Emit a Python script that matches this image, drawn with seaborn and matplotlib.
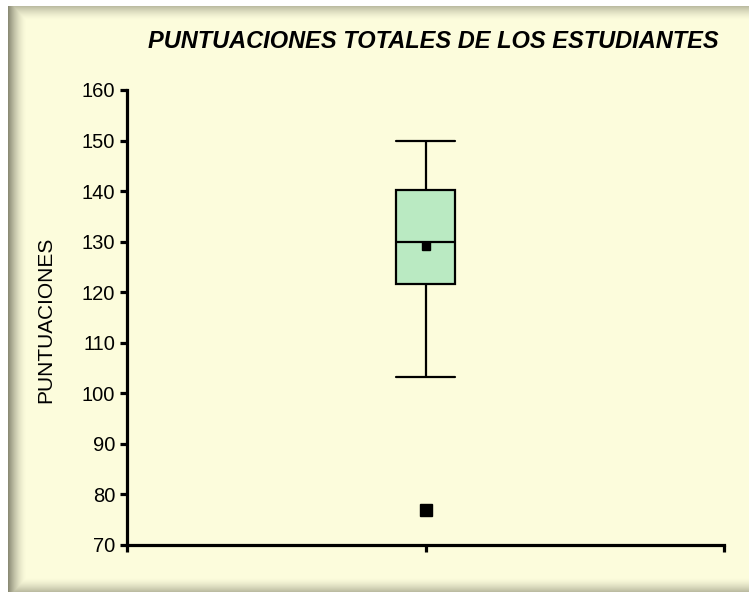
import matplotlib
matplotlib.use("Agg")
import matplotlib.pyplot as plt
import numpy as np
import pandas as pd
import seaborn as sns

# puntuaciones estimadas a partir del gráfico (cuartiles, bigotes, media y atípico)
puntuaciones = [76.9, 103.3, 116, 119, 121, 121.7, 124, 126, 128, 129.5, 130,
                132, 135, 137.5, 139.5, 140.3, 143, 145, 147, 149, 150]
grupo = ["Estudiantes"] * len(puntuaciones)
y_ticks = list(range(70, 161, 10))

titulo = "PUNTUACIONES TOTALES DE LOS ESTUDIANTES"
etiqueta_y = "PUNTUACIONES"

sns.set_theme(style="white")
plt.rcParams["font.family"] = ["Liberation Sans", "DejaVu Sans"]

W, H = 749, 592
fig = plt.figure(figsize=(W / 100, H / 100), dpi=100, facecolor="white")

# ── Fondo amarillo con borde sombreado ──────────────────────────────
px0, py0 = 8, 6
bw, bh = W - px0, H - py0
bg = fig.add_axes([px0 / W, 0, bw / W, bh / H])
xx = np.arange(bw)[None, :]
yy = np.arange(bh)[:, None]
left = np.clip(1 - xx / 18.0, 0, 1) ** 1.6 * 0.62
top = np.clip(1 - yy / 14.0, 0, 1) ** 1.6 * 0.35
bottom = np.clip(1 - (bh - 1 - yy) / 14.0, 0, 1) ** 1.6 * 0.35
shade = np.maximum(np.maximum(left, top), bottom)
base = np.array([252, 252, 220]) / 255.0
dark = np.array([70, 70, 55]) / 255.0
img = base[None, None, :] * (1 - shade[..., None]) + dark[None, None, :] * shade[..., None]
bg.imshow(img, aspect="auto", interpolation="bilinear")
bg.set_axis_off()

# ── Diagrama de caja ────────────────────────────────────────────────
df = pd.DataFrame({"grupo": grupo, "puntuacion": puntuaciones})
ax = fig.add_axes([127 / W, 1 - 545 / H, 597 / W, 455 / H])
ax.set_facecolor("none")

sns.boxplot(
    data=df, x="grupo", y="puntuacion", ax=ax,
    width=0.195, color="#BAEAC2", saturation=1, linecolor="black", linewidth=1.6,
    whis=1.5, capwidths=0.2,
    showmeans=True,
    meanprops=dict(marker="s", markerfacecolor="black", markeredgecolor="black",
                   markersize=5.5),
    flierprops=dict(marker="s", markerfacecolor="black", markeredgecolor="black",
                    markersize=8.5),
)

ax.set_xlim(-1, 1)
ax.set_ylim(70, 160)
ax.set_yticks(y_ticks)
ax.set_xticks([-1, 0, 1])
ax.set_xticklabels([])
ax.set_xlabel("")
ax.set_ylabel("")
for side in ["top", "right"]:
    ax.spines[side].set_visible(False)
for side in ["left", "bottom"]:
    ax.spines[side].set_linewidth(2.3)
    ax.spines[side].set_color("black")
ax.tick_params(axis="both", direction="out", length=5, width=2.3, color="black",
               left=True, bottom=True, pad=3.5)
ax.tick_params(axis="y", labelsize=14.5, labelcolor="black")

fig.text(433 / W, 1 - 42 / H, titulo, ha="center", va="center",
         fontsize=17, fontweight="bold", fontstyle="italic", color="black")
fig.text(46 / W, 1 - 320 / H, etiqueta_y, ha="center", va="center",
         rotation=90, fontsize=15, color="black")

fig.savefig("out.png", dpi=100)
